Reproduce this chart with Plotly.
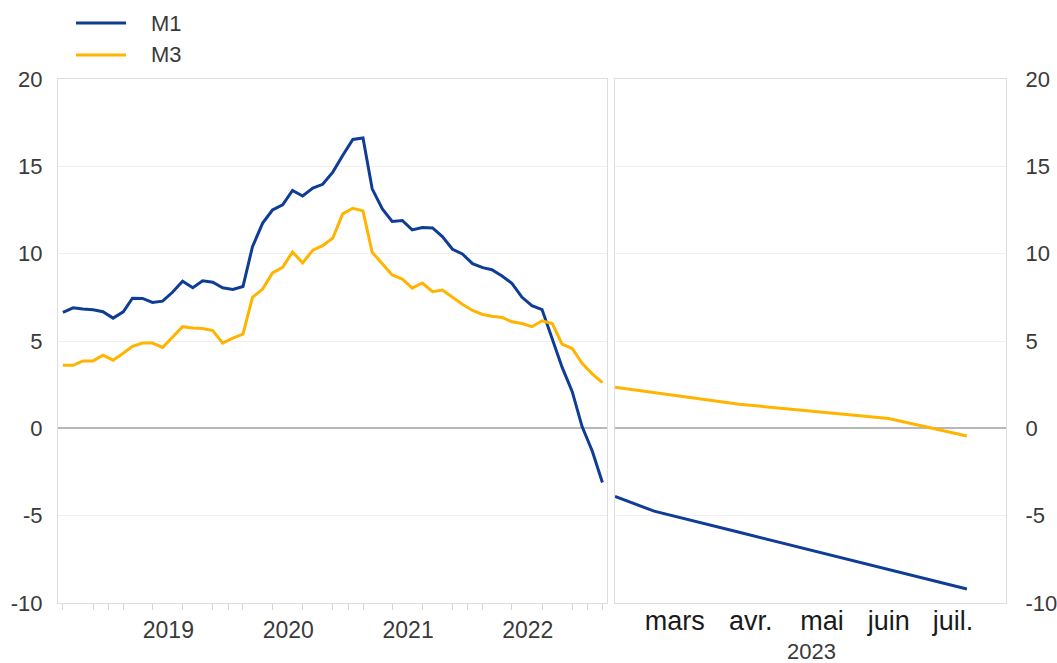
import pandas as pd
import plotly.graph_objects as go

# ---- data -------------------------------------------------------------
hist_dates = (pd.date_range("2018-08-01", "2023-02-01", freq="MS") + pd.Timedelta(days=14)).strftime("%Y-%m-%d").tolist()

m1_hist = [6.64, 6.90, 6.83, 6.79, 6.68, 6.31, 6.67, 7.45, 7.44, 7.21,
           7.28, 7.79, 8.42, 8.05, 8.45, 8.36, 8.05, 7.95, 8.12, 10.40,
           11.75, 12.50, 12.80, 13.62, 13.30, 13.75, 13.97, 14.67, 15.62, 16.54,
           16.62, 13.71, 12.56, 11.84, 11.90, 11.36, 11.50, 11.47, 10.98, 10.25,
           9.98, 9.43, 9.20, 9.08, 8.72, 8.30, 7.50, 7.02, 6.80, 5.10,
           3.50, 2.10, 0.10, -1.30, -3.10]
m3_hist = [3.61, 3.61, 3.86, 3.86, 4.19, 3.90, 4.30, 4.70, 4.88, 4.88,
           4.63, 5.20, 5.82, 5.75, 5.72, 5.60, 4.88, 5.16, 5.39, 7.50,
           7.97, 8.90, 9.22, 10.10, 9.47, 10.20, 10.46, 10.90, 12.28, 12.60,
           12.45, 10.08, 9.41, 8.78, 8.55, 8.03, 8.32, 7.82, 7.92, 7.50,
           7.10, 6.75, 6.52, 6.42, 6.35, 6.10, 6.00, 5.82, 6.16, 6.00,
           4.82, 4.57, 3.72, 3.12, 2.62]

proj_dates = ["2023-02-28", "2023-03-17", "2023-04-23", "2023-06-27", "2023-07-31"]
m1_proj = [-3.90, -4.74, -5.95, -8.10, -9.20]
m3_proj = [2.35, 2.04, 1.38, 0.56, -0.44]

month_ticks = ["2023-03-26", "2023-04-28", "2023-05-29", "2023-06-27", "2023-07-25"]
month_labels = ["mars", "avr.", "mai", "juin", "juil."]
year_label = "2023"

y_ticks = [-10, -5, 0, 5, 10, 15, 20]
y_labels = ["-10", "-5", "0", "5", "10", "15", "20"]

series_names = ["M1", "M3"]
BLUE = "#0f3d96"
YELLOW = "#ffb400"
TXT = "#3a3a3a"
FONT = "Liberation Sans, Arial, sans-serif"

# ---- figure -----------------------------------------------------------
fig = go.Figure()
fig.add_trace(go.Scatter(x=hist_dates, y=m1_hist, name=series_names[0], mode="lines",
                         line=dict(color=BLUE, width=3), xaxis="x", yaxis="y", showlegend=False))
fig.add_trace(go.Scatter(x=hist_dates, y=m3_hist, name=series_names[1], mode="lines",
                         line=dict(color=YELLOW, width=3), xaxis="x", yaxis="y", showlegend=False))
fig.add_trace(go.Scatter(x=proj_dates, y=m1_proj, name=series_names[0], mode="lines",
                         line=dict(color=BLUE, width=3), xaxis="x2", yaxis="y2", showlegend=False))
fig.add_trace(go.Scatter(x=proj_dates, y=m3_proj, name=series_names[1], mode="lines",
                         line=dict(color=YELLOW, width=3), xaxis="x2", yaxis="y2", showlegend=False))

L, R, T, B = 58, 51, 79, 60
W, H = 1057, 663
pw = W - L - R
ph = H - T - B

def px_x(p):
    return (p - L) / pw

def px_y(p):
    return (H - B - p) / ph

frame = "#dedede"
grid = "#efefef"

yax_common = dict(range=[-10, 20], tickmode="array", tickvals=y_ticks, ticktext=y_labels,
                  showgrid=True, gridcolor=grid, gridwidth=1,
                  zeroline=True, zerolinecolor="#b8b8b8", zerolinewidth=2,
                  showline=True, linecolor=frame, linewidth=1, mirror=True, ticks="",
                  tickfont=dict(size=22, color=TXT, family=FONT), domain=[0, 1],
                  automargin=False)

fig.update_layout(
    width=W, height=H,
    margin=dict(l=L, r=R, t=T, b=B, autoexpand=False),
    paper_bgcolor="white", plot_bgcolor="white",
    font=dict(family=FONT, color=TXT),
    showlegend=False,
    xaxis=dict(domain=[0, px_x(607)], type="date", range=["2018-07-31", "2023-03-01"],
               dtick="M12", tick0="2019-01-01", ticklabelmode="period", tickformat="%Y",
               ticks="outside", ticklen=6, tickcolor="#d6d6d6", tickwidth=1,
               minor=dict(dtick="M3", tick0="2018-08-15", ticks="outside", ticklen=6,
                          tickcolor="#d6d6d6", showgrid=False),
               showgrid=False, zeroline=False, showline=True, linecolor=frame, mirror=True,
               tickfont=dict(size=23, color=TXT, family=FONT), anchor="y", automargin=False),
    xaxis2=dict(domain=[px_x(615), 1], type="date", range=["2023-02-28", "2023-08-17"],
                tickmode="array", tickvals=month_ticks, ticktext=month_labels, ticks="",
                showgrid=False, zeroline=False, showline=True, linecolor=frame, mirror=True,
                tickfont=dict(size=27, color="#1a1a1a", family=FONT), anchor="y2",
                ticklabelstandoff=-6, automargin=False),
    yaxis=dict(anchor="x", side="left", ticklabelstandoff=10, **yax_common),
    yaxis2=dict(anchor="x2", side="right", ticklabelstandoff=14, **yax_common),
)

# legend drawn in the chart's own style (long line samples)
legend_rows = [(series_names[0], BLUE, 23), (series_names[1], YELLOW, 55)]
for name, col, py in legend_rows:
    fig.add_shape(type="line", xref="paper", yref="paper", x0=px_x(76), x1=px_x(126),
                  y0=px_y(py), y1=px_y(py), line=dict(color=col, width=3))
    fig.add_annotation(xref="paper", yref="paper", x=px_x(149), y=px_y(py), text=name,
                       showarrow=False, xanchor="left", yanchor="middle",
                       font=dict(size=22, color=TXT, family=FONT))

fig.add_annotation(xref="paper", yref="paper", x=px_x(811), y=px_y(651), text=year_label,
                   showarrow=False, xanchor="center", yanchor="middle",
                   font=dict(size=22, color=TXT, family=FONT))

fig.write_html("out.html", config={"displayModeBar": False},
               post_script="document.body.style.margin='0';document.body.style.overflow='hidden';")
